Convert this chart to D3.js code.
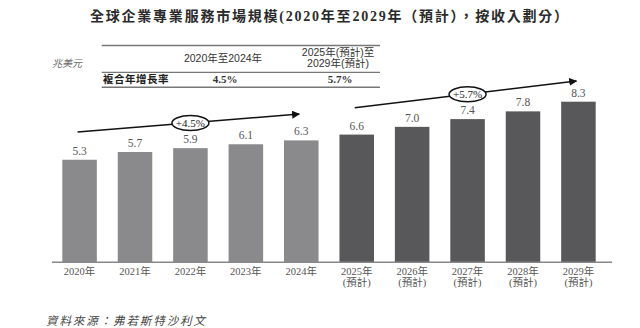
<!DOCTYPE html>
<html><head><meta charset="utf-8">
<script src="https://cdn.jsdelivr.net/npm/d3@7"></script>
<style>
html,body{margin:0;padding:0;background:#fff;}
svg{display:block;}
</style></head>
<body>
<svg id="chart" width="640" height="328"></svg>
<script>
const title = "全球企業專業服務市場規模(2020年至2029年（預計），按收入劃分）";
const unitLabel = "兆美元";
const source = "資料來源：弗若斯特沙利文";
const years = ["2020年","2021年","2022年","2023年","2024年","2025年","2026年","2027年","2028年","2029年"];
const values = [5.3, 5.7, 5.9, 6.1, 6.3, 6.6, 7.0, 7.4, 7.8, 8.3];
const forecast = [false,false,false,false,false,true,true,true,true,true];
const forecastNote = "(預計)";
const tableHeaders = ["2020年至2024年", ["2025年(預計)至","2029年(預計)"]];
const tableRowLabel = "複合年增長率";
const cagrValues = ["4.5%", "5.7%"];
const cagrArrows = [
  {from:"2020年", to:"2024年", v0:6.73, v1:7.66, label:"+4.5%"},
  {from:"2025年", to:"2029年", v0:7.99, v1:9.37, label:"+5.7%"}
];

const svg = d3.select("#chart");
const serif = "'Liberation Serif','Times New Roman','Noto Sans CJK TC',serif";
const sans = "'Liberation Sans',Arial,'Noto Sans CJK TC',sans-serif";

const x = d3.scaleBand().domain(years).range([52, 606]).paddingInner(0.377).paddingOuter(0.186);
const y = d3.scaleLinear().domain([0, 10]).range([262.3, 68.8]);

// Title
svg.append("text").attr("x", 90).attr("y", 20.5)
  .attr("font-family", "'Liberation Serif','Noto Sans CJK TC',serif")
  .attr("font-weight", "bold").attr("font-size", 14).attr("fill", "#2a2a2a")
  .attr("textLength", 478).attr("lengthAdjust", "spacing")
  .text(title);

// Unit
svg.append("text").attr("x", 52).attr("y", 67)
  .attr("font-family", serif).attr("font-style", "italic")
  .attr("font-size", 10).attr("fill", "#666").text(unitLabel);

// Table
const tbl = svg.append("g");
[45.5, 72.3, 87.3].forEach((ly, i) => {
  tbl.append("line").attr("x1", 101.7).attr("x2", 380).attr("y1", ly).attr("y2", ly)
    .attr("stroke", "#777").attr("stroke-width", i === 1 ? 1.2 : 1.5);
});
const colX = [223, 338];
tbl.append("text").attr("x", colX[0]).attr("y", 61.5).attr("text-anchor", "middle")
  .attr("font-family", sans).attr("font-size", 10.5).attr("fill", "#333").text(tableHeaders[0]);
tableHeaders[1].forEach((t, i) => {
  tbl.append("text").attr("x", colX[1]).attr("y", 55.5 + i * 11.5).attr("text-anchor", "middle")
    .attr("font-family", sans).attr("font-size", 10.5).attr("fill", "#333").text(t);
});
tbl.append("text").attr("x", 103).attr("y", 83.2)
  .attr("font-family", sans).attr("font-weight", "bold").attr("font-size", 10.5)
  .attr("letter-spacing", 0.5).attr("fill", "#222").text(tableRowLabel);
cagrValues.forEach((v, i) => {
  tbl.append("text").attr("x", colX[i] + 2).attr("y", 83.2).attr("text-anchor", "middle")
    .attr("font-family", serif).attr("font-weight", "bold").attr("font-size", 11)
    .attr("fill", "#333").text(v);
});

// Bars
const data = years.map((yr, i) => ({year: yr, value: values[i], forecast: forecast[i]}));
svg.append("g").selectAll("rect").data(data).join("rect")
  .attr("x", d => x(d.year)).attr("width", x.bandwidth())
  .attr("y", d => y(d.value)).attr("height", d => y(0) - y(d.value))
  .attr("fill", d => d.forecast ? "#58585a" : "#8a8a8c");

// Value labels
svg.append("g").selectAll("text").data(data).join("text")
  .attr("x", d => x(d.year) + x.bandwidth() / 2)
  .attr("y", d => y(d.value) - 5)
  .attr("text-anchor", "middle").attr("font-family", serif)
  .attr("font-size", 11.5).attr("fill", "#555")
  .text(d => d.value.toFixed(1));

// Axis
const axis = svg.append("g").attr("transform", `translate(0,${y(0)})`)
  .call(d3.axisBottom(x).tickSize(0).tickPadding(0));
axis.select(".domain").remove();
axis.selectAll(".tick text").remove();
axis.selectAll(".tick").each(function(d, i) {
  const t = d3.select(this).append("text")
    .attr("text-anchor", "middle").attr("font-family", serif)
    .attr("font-size", 10.5).attr("fill", "#555");
  t.append("tspan").attr("x", 0).attr("y", 12.5).text(d);
  if (forecast[i]) t.append("tspan").attr("x", 0).attr("y", 23.5).text(forecastNote);
});
svg.append("line").attr("x1", 52).attr("x2", 612).attr("y1", y(0)).attr("y2", y(0))
  .attr("stroke", "#888").attr("stroke-width", 1.5);

// CAGR arrows
const defs = svg.append("defs");
defs.append("marker").attr("id", "arr").attr("viewBox", "0 0 10 10")
  .attr("refX", 9).attr("refY", 5).attr("markerWidth", 8).attr("markerHeight", 8)
  .attr("markerUnits", "userSpaceOnUse").attr("orient", "auto")
  .append("path").attr("d", "M0,0 L10,5 L0,10 z").attr("fill", "#111");
cagrArrows.forEach(a => {
  const x0 = x(a.from) + x.bandwidth() / 2 - 2;
  const x1 = x(a.to) + x.bandwidth() / 2 - 2;
  const y0 = y(a.v0), y1 = y(a.v1);
  svg.append("line").attr("x1", x0).attr("y1", y0).attr("x2", x1).attr("y2", y1)
    .attr("stroke", "#111").attr("stroke-width", 1.5).attr("marker-end", "url(#arr)");
  const cx = (x0 + x1) / 2 + 2, cy = (y0 + y1) / 2;
  svg.append("ellipse").attr("cx", cx).attr("cy", cy).attr("rx", 18.5).attr("ry", 7.5)
    .attr("fill", "#fff").attr("stroke", "#111").attr("stroke-width", 1.5);
  svg.append("text").attr("x", cx).attr("y", cy + 3.8).attr("text-anchor", "middle")
    .attr("font-family", serif).attr("font-size", 11).attr("fill", "#222").text(a.label);
});

// Source
svg.append("text").attr("x", 46).attr("y", 325)
  .attr("font-family", serif).attr("font-style", "italic")
  .attr("font-size", 11.5).attr("fill", "#444")
  .attr("textLength", 159).attr("lengthAdjust", "spacing")
  .text(source);
</script>
</body></html>
